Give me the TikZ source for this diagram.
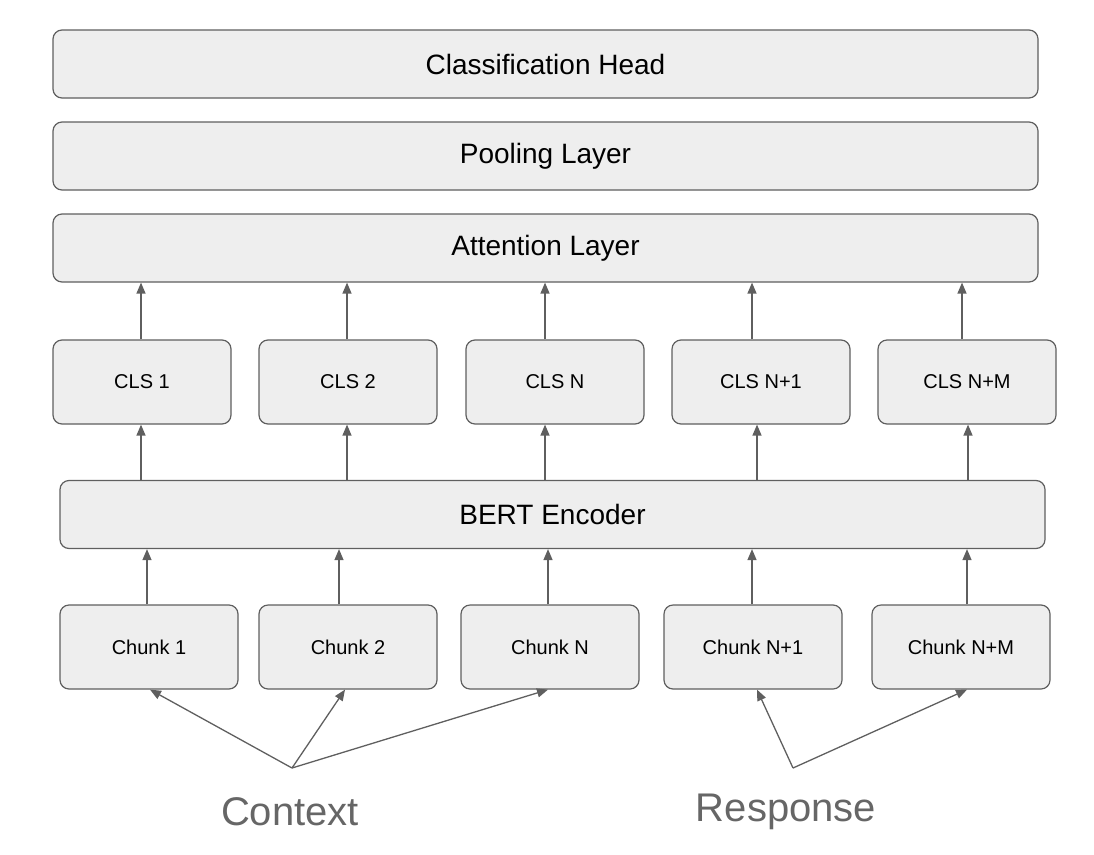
\documentclass[tikz,border=0pt]{standalone}
\usepackage{fontspec}
\setmainfont{Liberation Sans}
\usetikzlibrary{arrows.meta}
\definecolor{boxfill}{HTML}{EEEEEE}
\definecolor{boxline}{HTML}{5F5F5F}
\definecolor{labgray}{HTML}{666666}
\begin{document}
\begin{tikzpicture}[x=1pt,y=-1pt,
    layer/.style={draw=boxline, line width=1.2pt, fill=boxfill, rounded corners=9pt,
      minimum width=985pt, minimum height=68pt, font=\fontsize{28}{34}\selectfont},
    small/.style={draw=boxline, line width=1.2pt, fill=boxfill, rounded corners=9pt,
      minimum width=178pt, minimum height=84pt, font=\fontsize{20}{24}\selectfont},
    arr/.style={draw=boxline, line width=1.3pt, -{Triangle[length=11pt,width=9pt]}}]
        \useasboundingbox (0,0) rectangle (1094,854);
        % Upper layers
        \node[layer] (head) at (545.5, 64) {Classification Head};
        \node[layer] (pool) at (545.5, 156) {Pooling Layer};
        \node[layer] (att) at (545.5, 248) {Attention Layer};
        
        % CLS tokens
        \node[small] (cls1) at (142, 382) {CLS 1};
        \node[small] (cls2) at (348, 382) {CLS 2};
        \node[small] (clsn) at (555, 382) {CLS N};
        \node[small] (clsn1) at (761, 382) {CLS N+1};
        \node[small] (clsnm) at (967, 382) {CLS N+M};
        
        % Encoder
        \node[layer] (bert) at (552.5, 514.5) {BERT Encoder};
        
        % Chunks
        \node[small] (ch1) at (149, 647) {Chunk 1};
        \node[small] (ch2) at (348, 647) {Chunk 2};
        \node[small] (chn) at (550, 647) {Chunk N};
        \node[small] (chn1) at (753, 647) {Chunk N+1};
        \node[small] (chnm) at (961, 647) {Chunk N+M};
        
        % Inputs
        \node[text=labgray, font=\fontsize{40}{48}\selectfont] (ctx) at (290, 812) {Context};
        \node[text=labgray, font=\fontsize{40}{48}\selectfont] (resp) at (786, 812) {Response};
        \coordinate (ctxtop) at (292, 768);
        \coordinate (resptop) at (793, 768);
        
        % Arrows
        \foreach \x/\c in {141/cls1, 347/cls2, 545/clsn, 752/clsn1, 962/clsnm}
            \draw[arr] (\c.north -| \x,0) -- (att.south -| \x,0);
        \foreach \x/\c in {141/cls1, 347/cls2, 545/clsn, 757/clsn1, 968/clsnm}
            \draw[arr] (bert.north -| \x,0) -- (\c.south -| \x,0);
        \foreach \x/\c in {147/ch1, 339/ch2, 548/chn, 752/chn1, 967/chnm}
            \draw[arr] (\c.north -| \x,0) -- (bert.south -| \x,0);
        \foreach \x/\c in {150/ch1, 345/ch2, 548/chn}
            \draw[arr] (ctxtop) -- (\c.south -| \x,0);
        \foreach \x/\c in {757/chn1, 967/chnm}
            \draw[arr] (resptop) -- (\c.south -| \x,0);
    \end{tikzpicture}
\end{document}
